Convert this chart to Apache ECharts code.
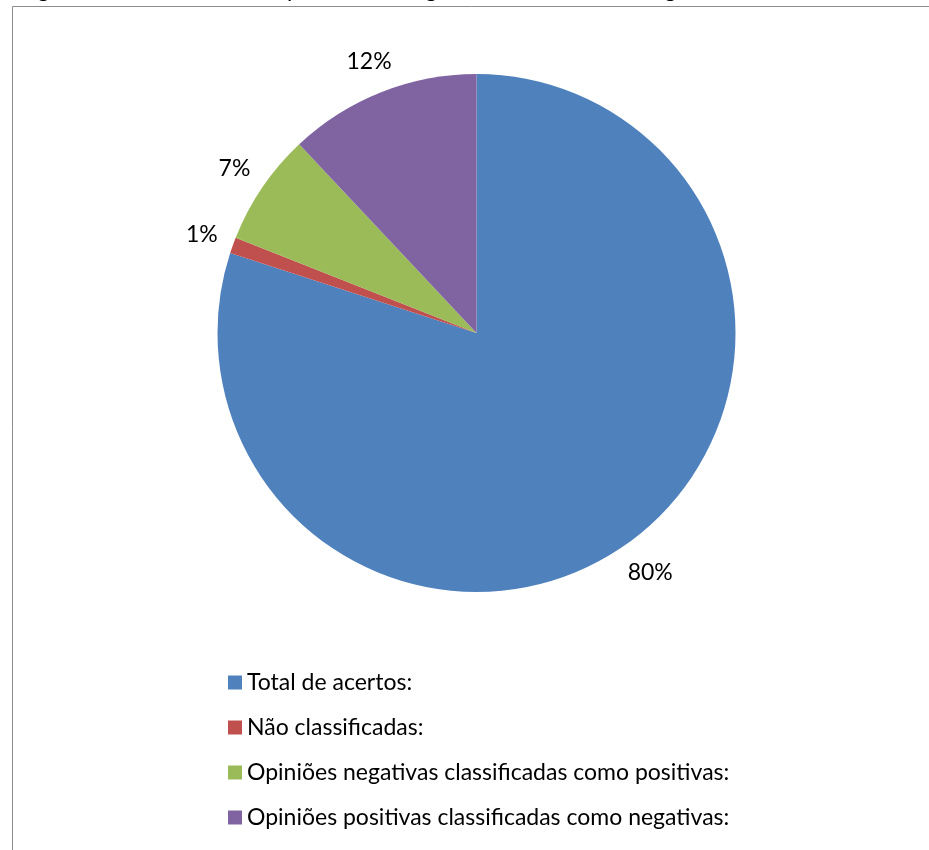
<!DOCTYPE html>
<html>
<head>
<meta charset="utf-8">
<script src="https://cdn.jsdelivr.net/npm/echarts@6/dist/echarts.min.js"></script>
<style>
  html, body { margin: 0; padding: 0; background: #ffffff; }
  #chart { width: 929px; height: 850px; }
</style>
</head>
<body>
<div id="chart"></div>
<script>
// Categories, their shares (%) and slice colours
const categories = [
  'Total de acertos:',
  'Não classificadas:',
  'Opiniões negativas classificadas como positivas:',
  'Opiniões positivas classificadas como negativas:'
];
const percentages = [80, 1, 7, 12];
const sliceColors = ['#4F81BD', '#C0504D', '#9BBB59', '#8064A2'];
const caption = 'Figura 9 – Medida final da precisão do algoritmo sobre as mensagens';

const FONT = 'Lato, "Liberation Sans", Arial, sans-serif';
const FONT_SIZE = 23;
const PIE_CENTER = [476.5, 333];
const PIE_RADIUS = 259;
const LABEL_GAP = 14;

const total = percentages.reduce((a, b) => a + b, 0);

const chart = echarts.init(document.getElementById('chart'), null, { renderer: 'canvas' });

chart.setOption({
  backgroundColor: '#ffffff',
  animation: false,
  color: sliceColors,
  graphic: [
    {
      // figure caption above the frame (runs off the top edge)
      type: 'text',
      left: 19,
      top: -21.5,
      silent: true,
      style: { text: caption, font: FONT_SIZE + 'px ' + FONT, fill: '#000000' }
    },
    {
      type: 'rect',
      silent: true,
      shape: { x: 12.5, y: 6.5, width: 1000, height: 1000 },
      style: { fill: 'none', stroke: '#8c8c8c', lineWidth: 1 }
    }
  ],
  legend: {
    orient: 'vertical',
    left: 228,
    top: 670,
    padding: 0,
    icon: 'rect',
    itemWidth: 14,
    itemHeight: 14,
    itemGap: 20,
    selectedMode: false,
    textStyle: { fontFamily: FONT, fontSize: FONT_SIZE, color: '#000000', lineHeight: 25 },
    data: categories
  },
  series: [
    {
      type: 'pie',
      center: PIE_CENTER,
      radius: PIE_RADIUS,
      startAngle: 90,
      clockwise: true,
      avoidLabelOverlap: false,
      itemStyle: { borderWidth: 0 },
      emphasis: { disabled: true },
      label: {
        show: true,
        position: 'outside',
        formatter: '{c}%',
        fontFamily: FONT,
        fontSize: FONT_SIZE,
        color: '#000000'
      },
      labelLine: { show: false },
      labelLayout: function (params) {
        // put each label just outside its slice, centred on the slice bisector
        const i = params.dataIndex;
        let before = 0;
        for (let k = 0; k < i; k++) before += percentages[k];
        const mid = (before + percentages[i] / 2) / total * Math.PI * 2;
        const dx = Math.sin(mid), dy = -Math.cos(mid);
        const w = params.labelRect.width, h = params.labelRect.height;
        const ext = Math.abs(dx) * w / 2 + Math.abs(dy) * h / 2;
        const r = PIE_RADIUS + LABEL_GAP + ext;
        return {
          x: PIE_CENTER[0] + dx * r,
          y: PIE_CENTER[1] + dy * r,
          align: 'center',
          verticalAlign: 'middle'
        };
      },
      data: categories.map((name, i) => ({ name: name, value: percentages[i] }))
    }
  ]
});
</script>
</body>
</html>
